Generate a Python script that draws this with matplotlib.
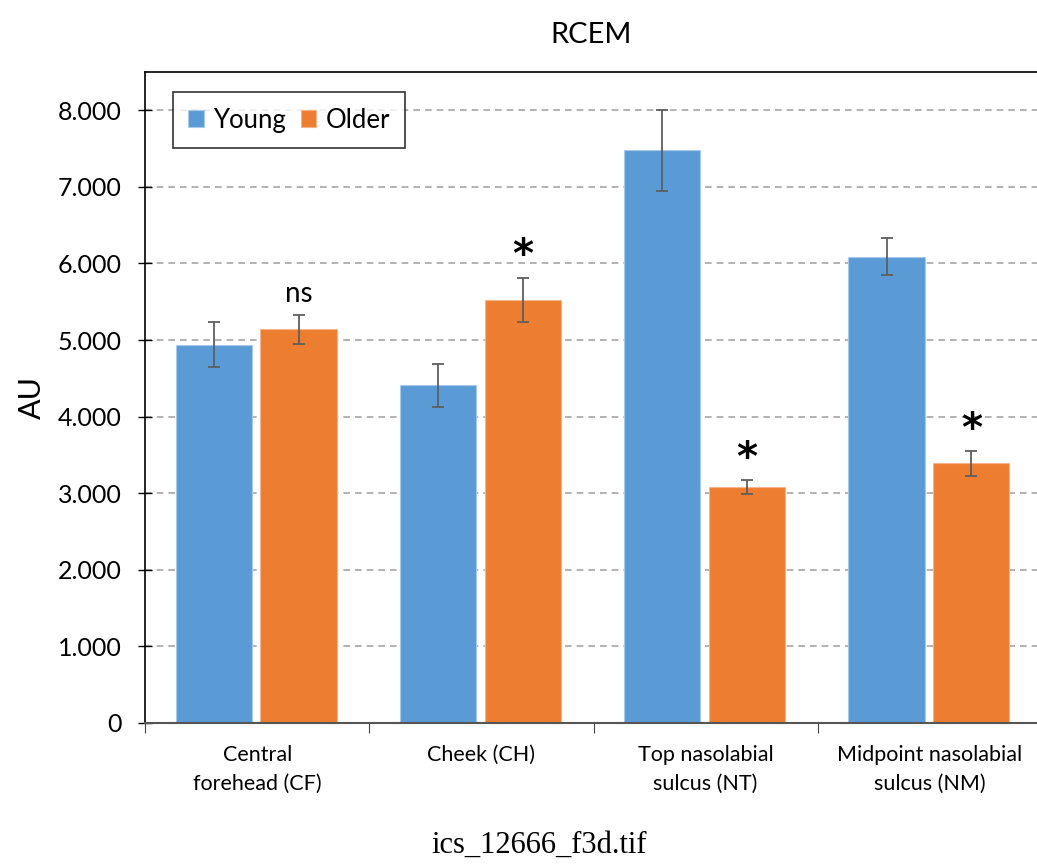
import numpy as np
import matplotlib.pyplot as plt

# data
categories = ['Central\nforehead (CF)', 'Cheek (CH)', 'Top nasolabial\nsulcus (NT)',
              'Midpoint nasolabial\nsulcus (NM)']
young = [4.94, 4.41, 7.48, 6.09]
young_err = [0.29, 0.28, 0.53, 0.24]
older = [5.14, 5.52, 3.08, 3.39]
older_err = [0.19, 0.29, 0.09, 0.16]
signif = ['ns', '*', '*', '*']
yticks = [0, 1, 2, 3, 4, 5, 6, 7, 8]
ytick_labels = ['0', '1.000', '2.000', '3.000', '4.000', '5.000', '6.000', '7.000', '8.000']

plt.rcParams['font.family'] = ['Lato', 'DejaVu Sans']

fig = plt.figure(figsize=(10.37, 8.67), dpi=100)
ax = fig.add_axes([145/1037, 144/867, 897/1037, 651/867])

x = np.arange(len(categories))
w = 0.34
ekw = dict(ecolor='#5f5f5f', elinewidth=1.3, capsize=4, capthick=1.3)
ax.bar(x - 0.193, young, w, yerr=young_err, color='#5B9BD5', edgecolor='#a9c9ea',
       linewidth=0.8, label='Young', error_kw=ekw, zorder=2)
ax.bar(x + 0.185, older, w, yerr=older_err, color='#ED7D31', edgecolor='#f5b48a',
       linewidth=0.8, label='Older', error_kw=ekw, zorder=2)

# significance marks above the older bars
for i in range(len(categories)):
    top = older[i] + older_err[i]
    if signif[i] == 'ns':
        ax.text(x[i] + 0.185, top + 0.1, 'ns', ha='center', va='bottom', fontsize=20)
    else:
        ax.text(x[i] + 0.185, top + 0.02, '*', ha='center', va='bottom', fontsize=29,
                fontweight='bold', family='DejaVu Sans')

ax.set_xlim(-0.5, 3.5)
ax.set_ylim(0, 8.5)
ax.set_yticks(yticks)
ax.set_yticklabels(ytick_labels, fontsize=18)
ax.set_xticks(np.arange(-0.5, 4.0, 1.0))
ax.set_xticklabels([])
ax.set_xticks(x, minor=True)
ax.set_xticklabels(categories, minor=True, fontsize=15.5, linespacing=1.55)
ax.tick_params(axis='x', which='minor', length=0, pad=16)
ax.tick_params(axis='x', which='major', length=7, direction='out', color='#444444')
ax.tick_params(axis='y', direction='inout', length=10, width=1, pad=12)
for yv in yticks[1:]:
    ax.axhline(yv, color='#a6a6a6', linestyle=(0, (4, 3)), linewidth=1.2, zorder=0)
for s in ['top', 'left', 'right']:
    ax.spines[s].set_color('black')
    ax.spines[s].set_linewidth(1.2)
ax.spines['bottom'].set_color('#555555')
ax.spines['bottom'].set_linewidth(1.5)

ax.set_ylabel('AU', fontsize=22, labelpad=8)

leg = ax.legend(loc='upper left', bbox_to_anchor=(0.031, 0.969), ncol=2, fontsize=18.5,
                frameon=True, fancybox=False, handlelength=0.6, handleheight=0.6,
                columnspacing=0.6, handletextpad=0.35, borderpad=0.6, borderaxespad=0)
leg.get_frame().set_edgecolor('black')
leg.get_frame().set_linewidth(1.2)

fig.text(0.57, 0.975, 'RCEM', ha='center', va='top', fontsize=21)
fig.text(0.52, 0.025, 'ics_12666_f3d.tif', ha='center', va='center', fontsize=22,
         family='Liberation Serif')

fig.savefig('out.png', dpi=100)
